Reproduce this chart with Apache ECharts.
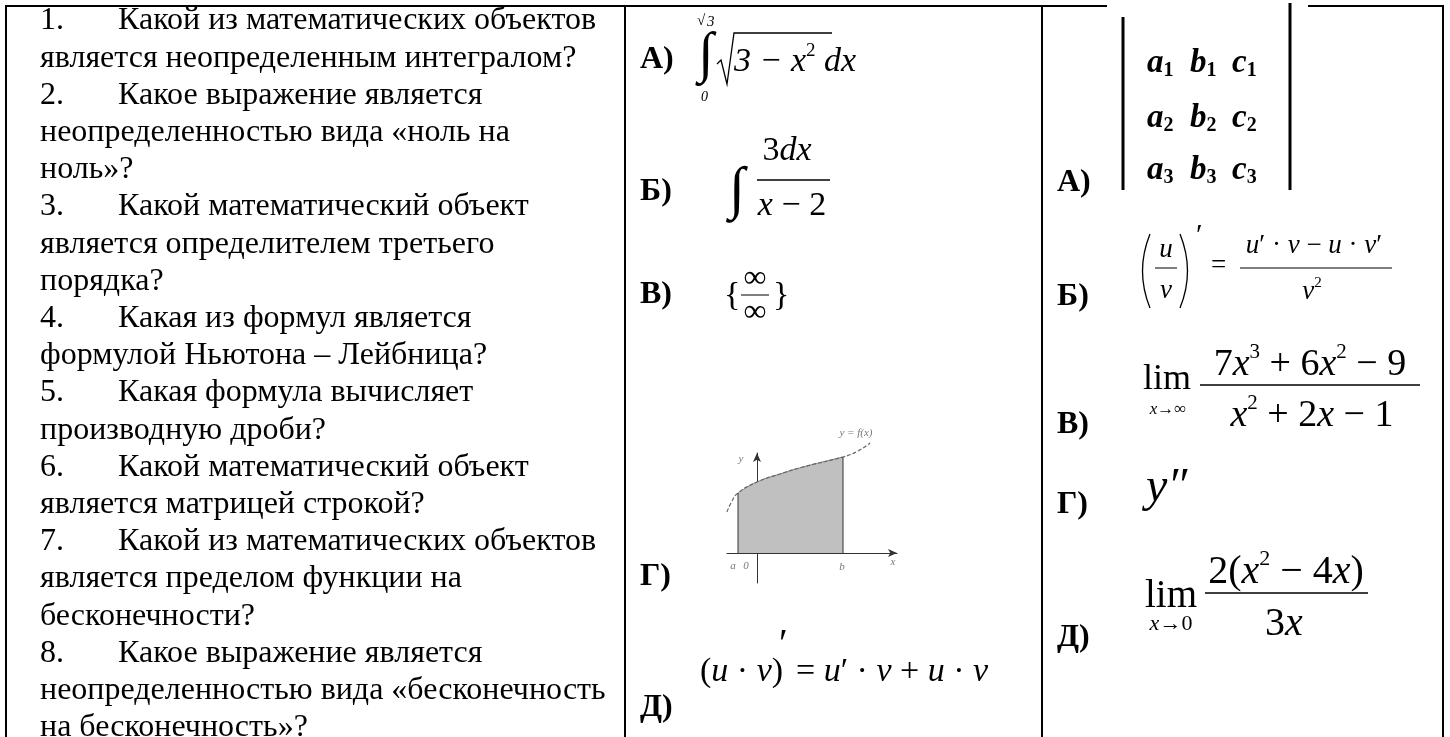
<!DOCTYPE html>
<html>
<head>
<meta charset="utf-8">
<title>Тест</title>
<script src="https://cdn.jsdelivr.net/npm/echarts@6/dist/echarts.min.js"></script>
<style>
  html, body { margin: 0; padding: 0; background: #fff; }
  #main { width: 1450px; height: 737px; }
</style>
</head>
<body>
<div id="main"></div>
<script>
// вопросы теста
const questionNums = ['1.', '2.', '3.', '4.', '5.', '6.', '7.', '8.'];
const questionText = [
  ['Какой из математических объектов', 'является неопределенным интегралом?'],
  ['Какое выражение является', 'неопределенностью вида «ноль на', 'ноль»?'],
  ['Какой математический объект', 'является определителем третьего', 'порядка?'],
  ['Какая из формул является', 'формулой Ньютона – Лейбница?'],
  ['Какая формула вычисляет', 'производную дроби?'],
  ['Какой математический объект', 'является матрицей строкой?'],
  ['Какой из математических объектов', 'является пределом функции на', 'бесконечности?'],
  ['Какое выражение является', 'неопределенностью вида «бесконечность', 'на бесконечность»?']
];
const optionLabels = ['А)', 'Б)', 'В)', 'Г)', 'Д)'];

// график площади под кривой y = f(x)
const curveX = [-3.0, -2.6, -1.9, 0, 2.3, 4.6, 8.6, 10.1, 11.3];
const curveY = [4.1, 5.0, 6.0, 7.1, 7.9, 8.6, 9.6, 10.2, 11.0];
const boundA = -1.9;
const boundB = 8.6;
const graphLabels = [
  [-2.4, -1.3, 'a'], [-1.1, -1.3, '0'], [8.5, -1.4, 'b'],
  [13.6, -0.9, 'x'], [-1.6, 9.4, 'y'], [9.9, 12.0, 'y = f(x)']
];

const SERIF = '"Liberation Serif", "Times New Roman", serif';

function text(x, y, s, size, extra) {
  return {
    type: 'text', x: x, y: y, silent: true,
    style: Object.assign({
      text: s, fontFamily: SERIF, fontSize: size, fill: '#000',
      align: 'left', verticalAlign: 'middle'
    }, extra || {})
  };
}
function line(x1, y1, x2, y2, w) {
  return {
    type: 'line', silent: true,
    shape: { x1: x1, y1: y1, x2: x2, y2: y2 },
    style: { stroke: '#000', lineWidth: w || 1 }
  };
}
function rich(size) {
  return {
    n: { fontFamily: SERIF, fontSize: size, lineHeight: size * 1.2 },
    i: { fontFamily: SERIF, fontSize: size, fontStyle: 'italic', lineHeight: size * 1.2 },
    sup: { fontFamily: SERIF, fontSize: Math.round(size * 0.55), lineHeight: Math.round(size * 0.55), verticalAlign: 'top' }
  };
}
function formula(x, y, s, size, align) {
  return text(x, y, s, size, { rich: rich(size), align: align || 'left' });
}

let graphic = [];

// рамка таблицы
graphic.push(line(6, 6, 1107, 6, 2));
graphic.push(line(1308, 6, 1444, 6, 2));
graphic.push(line(6, 5, 6, 737, 2));
graphic.push(line(625, 5, 625, 737, 2));
graphic.push(line(1042, 5, 1042, 737, 2));
graphic.push(line(1443, 5, 1443, 737, 2));

// левая колонка
let row = 0;
questionText.forEach((lines, q) => {
  lines.forEach((s, k) => {
    let y = 21 + row * 37.2;
    if (k == 0) {
      graphic.push(text(40, y, questionNums[q], 32));
      graphic.push(text(118, y, s, 32));
    } else {
      graphic.push(text(40, y, s, 32));
    }
    row++;
  });
});

// средняя колонка: подписи
const midLabelY = [60, 192, 295, 577, 708];
optionLabels.forEach((s, i) => {
  graphic.push(text(640, midLabelY[i], s, 32, { fontWeight: 'bold' }));
});

// А) определённый интеграл
graphic.push(text(698, 56, '∫', 56, { fontStyle: 'italic' }));
graphic.push(text(697, 21, '√', 15));
graphic.push(text(707, 22, '3', 15, { fontStyle: 'italic' }));
graphic.push(text(701, 97, '0', 14, { fontStyle: 'italic' }));
graphic.push({
  type: 'polyline', silent: true,
  shape: { points: [[717, 64], [721, 60], [727, 84], [734, 33], [832, 33]] },
  style: { stroke: '#000', lineWidth: 1.3, fill: null }
});
graphic.push(formula(734, 62, '{i|3 − x}{sup|2}{i| dx}', 34));

// Б) неопределённый интеграл
graphic.push(text(729, 192, '∫', 58, { fontStyle: 'italic' }));
graphic.push(formula(787, 151, '{n|3}{i|dx}', 34, 'center'));
graphic.push(line(757, 180, 830, 180, 1.5));
graphic.push(formula(792, 206, '{i|x}{n| − 2}', 34, 'center'));

// В) бесконечность на бесконечность
graphic.push(text(724, 296, '{', 34));
graphic.push(text(755, 279, '∞', 32, { align: 'center' }));
graphic.push(line(741, 295, 769, 295, 1));
graphic.push(text(755, 313, '∞', 32, { align: 'center' }));
graphic.push(text(773, 296, '}', 34));

// Д) производная произведения
graphic.push(formula(700, 672, '{n|(}{i|u}{n| · }{i|v}{n|)}', 34));
graphic.push(text(779, 645, '′', 40));
graphic.push(formula(796, 672, '{n|= }{i|u}{n|′ · }{i|v}{n| + }{i|u}{n| · }{i|v}', 34));

// правая колонка: подписи
const rightLabelY = [183, 297, 425, 505, 638];
optionLabels.forEach((s, i) => {
  graphic.push(text(1057, rightLabelY[i], s, 32, { fontWeight: 'bold' }));
});

// А) определитель третьего порядка
graphic.push(line(1123, 17, 1123, 190, 3));
graphic.push(line(1290, 3, 1290, 190, 3));
const detRows = [['a', 'b', 'c'], ['a', 'b', 'c'], ['a', 'b', 'c']];
[63, 118, 170].forEach((y, r) => {
  [1147, 1190, 1232].forEach((x, c) => {
    graphic.push(text(x, y, '{v|' + detRows[r][c] + '}{s|' + (r + 1) + '}', 32, {
      rich: {
        v: { fontFamily: SERIF, fontSize: 33, fontStyle: 'italic', fontWeight: 'bold', lineHeight: 36 },
        s: { fontFamily: SERIF, fontSize: 20, fontWeight: 'bold', lineHeight: 24, verticalAlign: 'bottom' }
      }
    }));
  });
});

// Б) производная дроби
graphic.push({
  type: 'bezierCurve', silent: true,
  shape: { x1: 1150, y1: 234, cpx1: 1135, cpy1: 271, x2: 1150, y2: 308 },
  style: { stroke: '#000', lineWidth: 1.3, fill: null }
});
graphic.push({
  type: 'bezierCurve', silent: true,
  shape: { x1: 1180, y1: 234, cpx1: 1195, cpy1: 271, x2: 1180, y2: 308 },
  style: { stroke: '#000', lineWidth: 1.3, fill: null }
});
graphic.push(formula(1166, 250, '{i|u}', 27, 'center'));
graphic.push(line(1155, 268, 1177, 268, 1));
graphic.push(formula(1166, 291, '{i|v}', 27, 'center'));
graphic.push(text(1196, 236, '′', 30));
graphic.push(text(1211, 266, '=', 27));
graphic.push(formula(1314, 246, '{i|u}{n|′ · }{i|v}{n| − }{i|u}{n| · }{i|v}{n|′}', 27, 'center'));
graphic.push(line(1240, 268, 1392, 268, 1));
graphic.push(formula(1312, 292, '{i|v}{sup|2}', 27, 'center'));

// В) предел на бесконечности
graphic.push(text(1143, 380, 'lim', 36));
graphic.push(formula(1168, 410, '{i|x}{n|→∞}', 17, 'center'));
graphic.push(formula(1310, 365, '{n|7}{i|x}{sup|3}{n| + 6}{i|x}{sup|2}{n| − 9}', 38, 'center'));
graphic.push(line(1200, 385, 1420, 385, 1.5));
graphic.push(formula(1312, 416, '{i|x}{sup|2}{n| + 2}{i|x}{n| − 1}', 38, 'center'));

// Г) вторая производная
graphic.push(text(1146, 488, 'y″', 48, { fontStyle: 'italic' }));

// Д) предел в нуле
graphic.push(text(1145, 597, 'lim', 39));
graphic.push(formula(1171, 624, '{i|x}{n|→0}', 22, 'center'));
graphic.push(formula(1286, 572, '{n|2(}{i|x}{sup|2}{n| − 4}{i|x}{n|)}', 40, 'center'));
graphic.push(line(1205, 593, 1368, 593, 1.5));
graphic.push(formula(1284, 624, '{n|3}{i|x}', 40, 'center'));

const curveData = curveX.map((x, i) => [x, curveY[i]]);
const areaData = curveData.filter(p => p[0] >= boundA && p[0] <= boundB);
const yAt = x => curveY[curveX.indexOf(x)];

const option = {
  animation: false,
  backgroundColor: '#fff',
  grid: { left: 727, top: 453, width: 170, height: 130 },
  xAxis: {
    type: 'value', min: -3, max: 14,
    axisLine: { onZero: true, symbol: ['none', 'arrow'], symbolSize: [6, 9], lineStyle: { color: '#333', width: 1 } },
    axisTick: { show: false }, axisLabel: { show: false }, splitLine: { show: false }
  },
  yAxis: {
    type: 'value', min: -3, max: 10,
    axisLine: { show: true, onZero: true, symbol: ['none', 'arrow'], symbolSize: [6, 9], lineStyle: { color: '#333', width: 1 } },
    axisTick: { show: false }, axisLabel: { show: false }, splitLine: { show: false }
  },
  series: [
    {
      type: 'line', data: areaData, smooth: true, symbol: 'none', z: 2,
      lineStyle: { color: '#888', width: 1 },
      areaStyle: { color: '#c0c0c0', opacity: 1 }
    },
    {
      type: 'line', data: curveData, smooth: true, symbol: 'none', clip: false, z: 3,
      lineStyle: { color: '#666', width: 1.2, type: [4, 2] }
    },
    {
      type: 'line', data: [[boundA, 0], [boundA, yAt(boundA)]], symbol: 'none', z: 4,
      lineStyle: { color: '#333', width: 1 }
    },
    {
      type: 'line', data: [[boundB, 0], [boundB, yAt(boundB)]], symbol: 'none', z: 4,
      lineStyle: { color: '#333', width: 1 }
    },
    {
      type: 'scatter', data: graphLabels, symbolSize: 0, clip: false, z: 5,
      label: {
        show: true, position: 'inside', formatter: p => p.data[2],
        fontFamily: SERIF, fontStyle: 'italic', fontSize: 11, color: '#555'
      }
    }
  ],
  graphic: graphic
};

const chart = echarts.init(document.getElementById('main'));
chart.setOption(option);
</script>
</body>
</html>
